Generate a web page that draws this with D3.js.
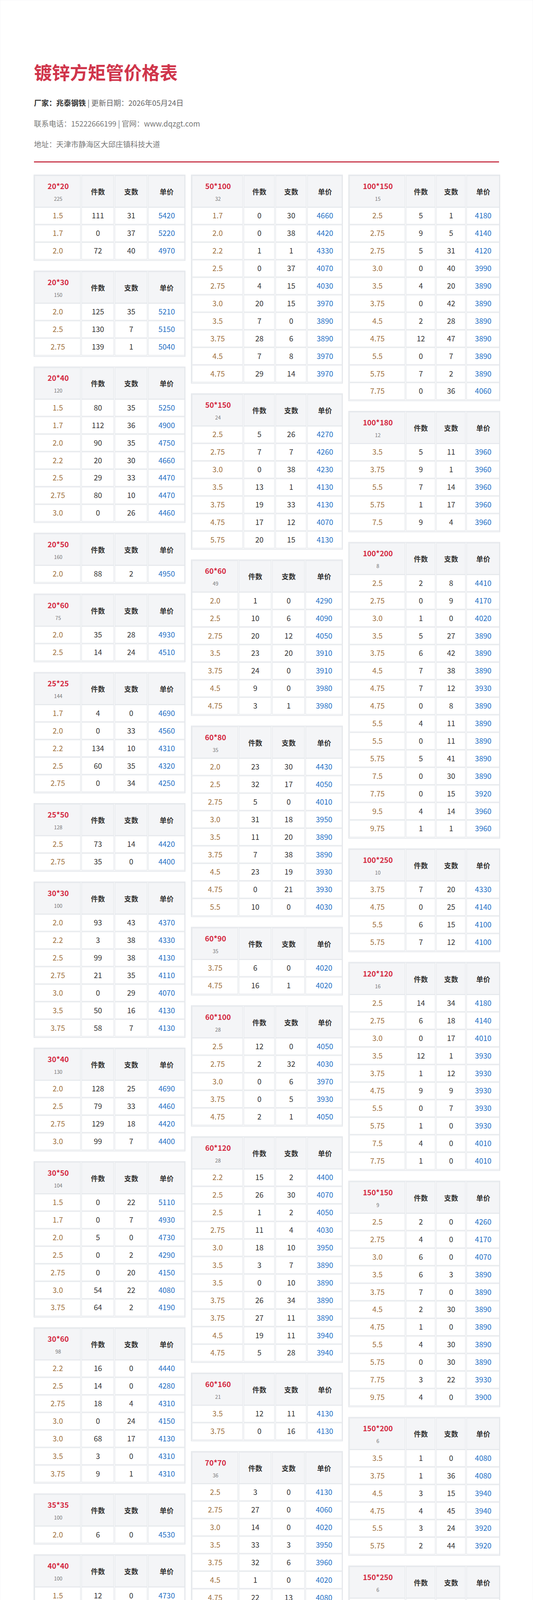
<!DOCTYPE html>
<html><head><meta charset="utf-8">
<script src="https://cdn.jsdelivr.net/npm/d3@7"></script>
<style>html,body{margin:0;padding:0;background:#fff;overflow:hidden}svg{display:block}text{font-family:"Noto Sans CJK SC","Noto Sans",sans-serif}</style>
</head><body><div id="chart"></div>
<script>
// spec name, total count and which column the table sits in
const specs = ["20*20","20*30","20*40","20*50","20*60","25*25","25*50","30*30","30*40","30*50","30*60","35*35","40*40","40*60","40*80","50*50","50*70","50*80","50*90",
  "50*100","50*150","60*60","60*80","60*90","60*100","60*120","60*160","70*70","75*75","80*80","80*100","80*120","80*140","80*160","100*100",
  "100*150","100*180","100*200","100*250","120*120","150*150","150*200","150*250","160*160","180*180","200*200","200*300","200*400","250*250","300*300"];
const specCount = [225,150,120,160,75,144,128,100,130,104,98,100,100,70,50,64,48,40,40,
  32,24,49,35,35,28,28,21,36,36,36,25,24,18,18,25,
  15,12,8,10,16,9,6,6,9,9,4,4,4,4,4];
const specCol = [0,0,0,0,0,0,0,0,0,0,0,0,0,0,0,0,0,0,0,
  1,1,1,1,1,1,1,1,1,1,1,1,1,1,1,1,
  2,2,2,2,2,2,2,2,2,2,2,2,2,2,2];
const thick = [
 ["1.5","1.7","2.0"],["2.0","2.5","2.75"],["1.5","1.7","2.0","2.2","2.5","2.75","3.0"],["2.0"],["2.0","2.5"],
 ["1.7","2.0","2.2","2.5","2.75"],["2.5","2.75"],["2.0","2.2","2.5","2.75","3.0","3.5","3.75"],["2.0","2.5","2.75","3.0"],
 ["1.5","1.7","2.0","2.5","2.75","3.0","3.75"],["2.2","2.5","2.75","3.0","3.0","3.5","3.75"],["2.0"],
 ["1.5","1.7","2.0","2.0","2.2","2.5","2.5","2.75","3.0","3.5","3.75"],["1.7","2.0","2.2","2.75","3.0","3.75","4.75"],
 ["1.5","2.0","2.5","2.75","3.5","4.5","4.75"],["2.0","2.2","2.5","2.75","3.0","3.5","3.75","4.5","4.75"],
 ["2.0","2.5","2.75","3.0","4.5"],["2.5","3.0","3.75"],["3.5","3.75"],
 ["1.7","2.0","2.2","2.5","2.75","3.0","3.5","3.75","4.5","4.75"],["2.5","2.75","3.0","3.5","3.75","4.75","5.75"],
 ["2.0","2.5","2.75","3.5","3.75","4.5","4.75"],["2.0","2.5","2.75","3.0","3.5","3.75","4.5","4.75","5.5"],["3.75","4.75"],
 ["2.5","2.75","3.0","3.75","4.75"],["2.2","2.5","2.5","2.75","3.0","3.5","3.5","3.75","3.75","4.5","4.75"],["3.5","3.75"],
 ["2.5","2.75","3.0","3.5","3.75","4.5","4.75"],["3.75"],["1.7","2.0","2.2","2.75","3.5","3.75","4.5","4.75"],
 ["2.5","2.75","3.0","3.75"],["2.5","2.75","3.0","3.5","3.75","4.5","4.75","5.75"],["2.75","3.0","3.5","3.75","4.5","4.75","5.5"],
 ["2.5","2.75","3.0","3.5","3.75","4.5","4.75","5.5","5.75"],
 ["1.7","2.0","2.2","2.5","2.75","3.0","3.5","3.75","4.5","4.75","5.5","5.75","7.5","7.75"],
 ["2.5","2.75","2.75","3.0","3.5","3.75","4.5","4.75","5.5","5.75","7.75"],["3.5","3.75","5.5","5.75","7.5"],
 ["2.5","2.75","3.0","3.5","3.75","4.5","4.75","4.75","5.5","5.5","5.75","7.5","7.75","9.5","9.75"],["3.75","4.75","5.5","5.75"],
 ["2.5","2.75","3.0","3.5","3.75","4.75","5.5","5.75","7.5","7.75"],["2.5","2.75","3.0","3.5","3.75","4.5","4.75","5.5","5.75","7.75","9.75"],
 ["3.5","3.75","4.5","4.75","5.5","5.75"],["3.5","3.75","4.5","4.75","5.5","5.75","7.5","7.75","9.75"],["3.75","4.75","5.5","5.75"],
 ["3.75","4.75","5.75"],["2.5","2.75","3.0","3.75","4.75","5.5","5.75","7.5","7.75","9.5","9.75"],
 ["3.75","4.75","5.5","5.75","7.5","7.75","9.5"],["5.75","7.75"],["4.75","5.75","7.75"],["4.75","5.5","5.75","7.5","7.75","9.5","9.75"]];
const pieces = [
 [111,0,72],[125,130,139],[80,112,90,20,29,80,0],[88],[35,14],[4,0,134,60,0],[73,35],[93,3,99,21,0,50,58],[128,79,129,99],
 [0,0,5,0,0,54,64],[16,14,18,0,68,3,9],[6],[12,52,68,84,31,0,55,35,40,60,3],[44,55,10,18,15,69,23],[15,37,7,11,21,9,1],
 [4,10,26,22,58,2,6,11,61],[16,35,11,1,18],[25,0,6],[13,11],
 [0,0,1,0,4,20,7,28,7,29],[5,7,0,13,19,17,20],[1,10,20,23,24,9,3],[23,32,5,31,11,7,23,0,10],[6,16],[12,2,0,0,2],
 [15,26,1,11,18,3,0,26,27,19,5],[12,0],[3,27,14,33,32,1,22],[12],[23,12,1,18,7,15,17,12],[18,11,20,7],[1,22,14,8,10,6,14,1],
 [5,2,14,14,10,17,3],[1,1,2,0,3,7,0,16,3],[4,10,0,1,0,10,8,17,14,20,8,1,1,0],
 [5,9,5,0,4,0,2,12,0,7,0],[5,9,7,1,9],[2,0,1,5,6,7,7,0,4,0,5,0,0,4,1],[7,0,6,7],[14,6,0,12,1,9,0,1,4,1],
 [2,4,6,6,7,2,1,4,0,3,4],[1,1,3,4,3,2],[3,5,4,1,2,0,1,2,0],[5,6,1,1],[7,5,3],[0,0,1,0,2,0,2,3,1,0,2],
 [0,0,3,0,0,0,0],[1,0],[3,1,3],[1,0,0,0,3,0,2]];
const bundles = [
 [31,37,40],[35,7,1],[35,36,35,30,33,10,26],[2],[28,24],[0,33,10,35,34],[14,0],[43,38,38,35,29,16,7],[25,33,18,7],
 [22,7,0,2,20,22,2],[0,0,4,24,17,0,1],[0],[0,37,34,0,1,1,32,2,0,0,0],[35,14,0,25,31,34,10],[0,0,0,0,3,0,0],
 [0,40,47,38,32,8,41,3,32],[0,1,3,0,0],[0,10,20],[10,33],
 [30,38,1,37,15,15,0,6,8,14],[26,7,38,1,33,12,15],[0,6,12,20,0,0,1],[30,17,0,18,20,38,19,21,0],[0,1],[0,32,6,5,1],
 [2,30,2,4,10,7,10,34,11,11,28],[11,16],[0,0,0,3,6,0,13],[0],[0,0,0,5,18,12,30,22],[1,14,0,18],[4,12,31,22,7,13,11,0],
 [22,22,26,0,22,6,7],[0,0,12,18,15,14,22,1,0],[33,6,32,9,9,4,23,31,5,7,10,0,0,15],
 [1,5,31,40,20,42,28,47,7,2,36],[11,1,14,17,4],[8,9,0,27,42,38,12,8,11,11,41,30,15,14,1],[20,25,15,12],[34,18,17,1,12,9,7,0,0,0],
 [0,0,0,3,0,30,0,30,30,22,0],[0,36,15,45,24,44],[9,7,7,3,32,18,37,35,16],[12,7,0,1],[31,8,31],[17,50,50,48,42,40,48,40,35,26,30],
 [13,40,0,42,17,10,10],[0,11],[26,4,18],[40,8,26,24,33,24,23]];
const prices = [
 [5420,5220,4970],[5210,5150,5040],[5250,4900,4750,4660,4470,4470,4460],[4950],[4930,4510],[4690,4560,4310,4320,4250],[4420,4400],
 [4370,4330,4130,4110,4070,4130,4130],[4690,4460,4420,4400],[5110,4930,4730,4290,4150,4080,4190],[4440,4280,4310,4150,4130,4310,4310],[4530],
 [4730,4730,4500,4270,4290,4160,4130,4080,3980,3940,3940],[4510,4350,4330,4040,3990,3930,4050],[4730,4360,4080,4000,3930,3950,3950],
 [4300,4310,4100,4050,4000,3940,3940,3970,3970],[4430,4060,4020,3960,4020],[4130,4080,3980],[3900,3900],
 [4660,4420,4330,4070,4030,3970,3890,3890,3970,3970],[4270,4260,4230,4130,4130,4070,4130],[4290,4090,4050,3910,3910,3980,3980],
 [4430,4050,4010,3950,3890,3890,3930,3930,4030],[4020,4020],[4050,4030,3970,3930,4050],
 [4400,4070,4050,4030,3950,3890,3890,3890,3890,3940,3940],[4130,4130],[4130,4060,4020,3950,3960,4020,4080],[3880],
 [4650,4350,4310,4010,3900,3900,3960,3960],[4100,4080,3980,3920],[4100,4030,3960,3910,3910,3910,3910,3940],
 [4150,4000,3900,3900,3900,3900,3900],[4270,4050,3950,3890,3890,3890,3890,3890,3890],
 [4680,4520,4330,4100,4020,3960,3890,3890,3890,3890,3890,3960,4150,4150],
 [4180,4140,4120,3990,3890,3890,3890,3890,3890,3890,4060],[3960,3960,3960,3960,3960],
 [4410,4170,4020,3890,3890,3890,3930,3890,3890,3890,3890,3890,3920,3960,3960],[4330,4140,4100,4100],
 [4180,4140,4010,3930,3930,3930,3930,3930,4010,4010],[4260,4170,4070,3890,3890,3890,3890,3890,3890,3930,3900],
 [4080,4080,3940,3940,3920,3920],[4390,4350,4210,4170,4110,4080,3930,3930,3930],[3900,3900,3900,3900],[4050,3900,3900],
 [4770,4400,4290,4110,3960,3900,3940,3920,3920,3910,3910],[4510,4270,4180,4180,4070,4070,4100],[4280,4080],[4240,4120,4060],
 [4220,4200,4180,4030,4030,4030,4030]];
const headers = ["件数","支数","单价"];

const W = 1365, H = 7486;
const svg = d3.select("#chart").append("svg").attr("width", W).attr("height", H);
svg.append("rect").attr("width", W).attr("height", H).attr("fill", "#fff").attr("stroke", "#eceef1");

// header block
svg.append("text").attr("x", 87).attr("y", 203).attr("font-size", 46).attr("font-weight", 700)
  .attr("fill", "#d0354b").text("镀锌方矩管价格表");
const meta = svg.append("text").attr("x", 87).attr("y", 271).attr("font-size", 19).attr("fill", "#666");
meta.append("tspan").attr("font-weight", 700).attr("fill", "#333").text("厂家：兆泰钢铁");
meta.append("tspan").text(" | 更新日期：2026年05月24日");
svg.append("text").attr("x", 87).attr("y", 324).attr("font-size", 19).attr("fill", "#777").text("联系电话：15222666199 | 官网：www.dqzgt.com");
svg.append("text").attr("x", 87).attr("y", 377).attr("font-size", 19).attr("fill", "#777").text("地址：天津市静海区大邱庄镇科技大道");
svg.append("rect").attr("x", 87).attr("y", 413).attr("width", 1191).attr("height", 3).attr("fill", "#c9384a");

// columns
const colX = d3.scaleBand().domain([0, 1, 2]).range([87, 1280]).paddingInner(0.04);
const rowH = 44.9, headH = 80, gap = 27;
const colY = [448, 448, 448];
const stroke = "#e4e7eb";

specs.forEach((s, i) => {
  const c = specCol[i];
  const x0 = colX(c), w = colX.bandwidth();
  const n = thick[i].length;
  const y0 = colY[c];
  const first = Math.max(120, 120 + 12.5 * (s.length - 5));
  const rest = w - first;
  const xs = d3.scaleOrdinal().domain([0, 1, 2, 3]).range([0, first, first + rest * 0.32, first + rest * 0.64]);
  const ws = [first, rest * 0.32, rest * 0.32, rest * 0.36];
  const g = svg.append("g").attr("transform", `translate(${x0},${y0})`);
  const h = headH + n * rowH;
  g.append("rect").attr("x", 0).attr("y", 0).attr("width", w).attr("height", h + 4)
    .attr("fill", "#fff").attr("stroke", stroke).attr("stroke-width", 2);
  [0, 1, 2, 3].forEach(k => {
    g.append("rect").attr("x", xs(k) + 2).attr("y", 2).attr("width", ws[k] - 3).attr("height", headH)
      .attr("fill", "#f4f5f7").attr("stroke", stroke).attr("stroke-width", 1.5);
  });
  g.append("text").attr("x", first / 2 + 2).attr("y", 36).attr("text-anchor", "middle")
    .attr("font-size", 19).attr("font-weight", 700).attr("fill", "#d4283f").text(s);
  g.append("text").attr("x", first / 2 + 2).attr("y", 66).attr("text-anchor", "middle")
    .attr("font-size", 13).attr("fill", "#777").text(specCount[i]);
  headers.forEach((t, k) => {
    g.append("text").attr("x", xs(k + 1) + ws[k + 1] / 2 + 1).attr("y", 50).attr("text-anchor", "middle")
      .attr("font-size", 18).attr("font-weight", 700).attr("fill", "#333").text(t);
  });
  const yRow = d3.scaleLinear().domain([0, n]).range([headH + 2, headH + 2 + n * rowH]);
  d3.range(n).forEach(r => {
    const vals = [thick[i][r], pieces[i][r], bundles[i][r], prices[i][r]];
    const cols = ["#a0703c", "#333", "#333", "#1f6fc5"];
    vals.forEach((v, k) => {
      g.append("rect").attr("x", xs(k) + 2).attr("y", yRow(r) + 1).attr("width", ws[k] - 3).attr("height", rowH - 2)
        .attr("fill", "#fff").attr("stroke", stroke).attr("stroke-width", 1.5);
      g.append("text").attr("x", xs(k) + ws[k] / 2 + 1).attr("y", yRow(r) + rowH / 2 + 7)
        .attr("text-anchor", "middle").attr("font-size", 19).attr("fill", cols[k]).text(v);
    });
  });
  colY[c] += h + 4 + gap;
});

// footer
svg.append("rect").attr("x", 87).attr("y", 7238).attr("width", 1191).attr("height", 2).attr("fill", "#eceef1");
svg.append("text").attr("x", W / 2).attr("y", 7304).attr("text-anchor", "middle").attr("font-size", 15).attr("fill", "#888")
  .text("注：1. 以上价格均为含税价格，最终价格以电话确认为准。2. 可提供送货上门、加工定做等服务。");
svg.append("text").attr("x", W / 2).attr("y", 7349).attr("text-anchor", "middle").attr("font-size", 15).attr("fill", "#888")
  .text("版权所有 © 天津大邱庄钢材网 | 津ICP备17008953号");
</script></body></html>
